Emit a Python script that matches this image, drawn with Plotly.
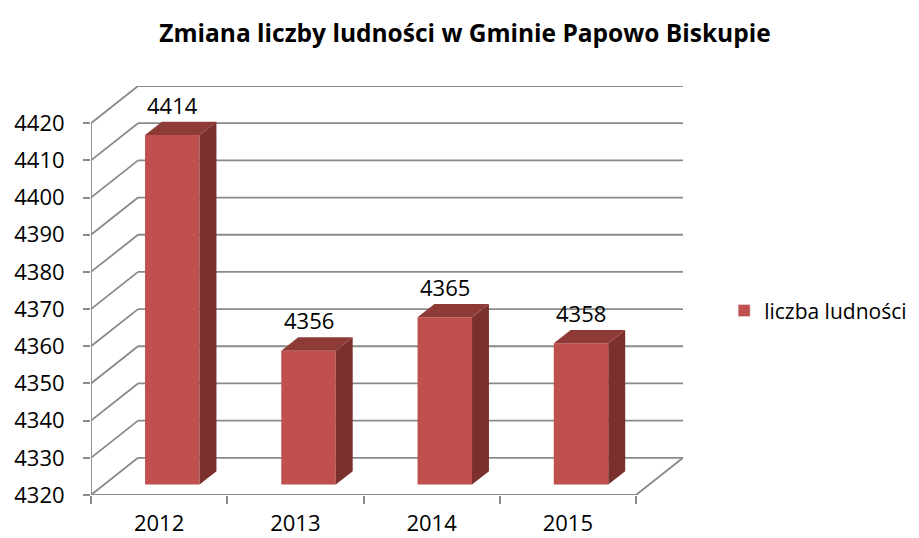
import plotly.graph_objects as go

title = "Zmiana liczby ludności w Gminie Papowo Biskupie"
series_name = "liczba ludności"
categories = ["2012", "2013", "2014", "2015"]
values = [4414, 4356, 4365, 4358]
y_ticks = [4320, 4330, 4340, 4350, 4360, 4370, 4380, 4390, 4400, 4410, 4420]

# 3D projection parameters (depth offset in data units)
DX = 0.345      # horizontal depth offset (category units)
DY = 10.0       # vertical depth offset (value units)
D0, D1 = 0.28, 0.64   # bar depth start / end (fraction of depth)
BAR_L, BAR_R = 0.30, 0.70  # bar front-face extent within category band
BASE = y_ticks[0]
TOP = y_ticks[-1]
N = len(categories)

GRID = "#8a8a8a"
FRONT = "#C0504D"
TOPC = "#8E3A37"
SIDE = "#7B302E"
FONT = "'Open Sans', Lato, 'Liberation Sans', sans-serif"

def proj(x, y, d):
    return x + d * DX, y + d * DY

fig = go.Figure()

# walls / grid
gx, gy = [], []
for v in y_ticks:
    x0, y0 = proj(0, v, 1)
    x1, y1 = proj(N, v, 1)
    gx += [x0, x1, None]; gy += [y0, y1, None]
    gx += [0, x0, None]; gy += [v, y0, None]
fx, fy = proj(N, BASE, 1)
gx += [0, N, fx, None]; gy += [BASE, BASE, fy, None]
gx += [0, 0, None]; gy += [BASE, TOP, None]
fig.add_trace(go.Scatter(x=gx, y=gy, mode="lines", line=dict(color=GRID, width=1.8),
                         hoverinfo="skip", showlegend=False))

def poly(pts, color):
    fig.add_trace(go.Scatter(x=[p[0] for p in pts] + [pts[0][0]], y=[p[1] for p in pts] + [pts[0][1]],
                             mode="lines", fill="toself", fillcolor=color, line=dict(width=0, color=color),
                             hoverinfo="skip", showlegend=False))

for i, v in enumerate(values):
    xl, xr = i + BAR_L, i + BAR_R
    poly([proj(xl, BASE, D0), proj(xr, BASE, D0), proj(xr, v, D0), proj(xl, v, D0)], FRONT)
    poly([proj(xr, BASE, D0), proj(xr, BASE, D1), proj(xr, v, D1), proj(xr, v, D0)], SIDE)
    poly([proj(xl, v, D0), proj(xr, v, D0), proj(xr, v, D1), proj(xl, v, D1)], TOPC)
    lx, _ = proj(i + 0.5, v, D0)
    _, ly = proj(i + 0.5, v, D1)
    fig.add_annotation(x=lx, y=ly, text=str(v), showarrow=False, yanchor="bottom",
                       yshift=0, font=dict(family=FONT, size=22, color="#000000"))

fig.add_trace(go.Bar(x=[None], y=[None], name=series_name, marker_color=FRONT, showlegend=True))

# page body has an 8px default margin, so the figure is sized to fit the window
fig.update_layout(
    width=911, height=530,
    paper_bgcolor="white", plot_bgcolor="white",
    margin=dict(l=83, r=236, t=78, b=43, autoexpand=False),
    title=dict(text="<b>" + title + "</b>", x=457 / 911, xref="container", xanchor="center",
               y=1 - 25 / 530, yref="container", yanchor="middle",
               font=dict(family=FONT, size=24.5, color="#000000")),
    xaxis=dict(range=[0, N + DX], showgrid=False, zeroline=False, showline=False,
               tickvals=[i + 0.5 for i in range(N)], ticktext=categories, ticks="",
               tickfont=dict(family=FONT, size=22, color="#000000"), ticklabelstandoff=13,
               minor=dict(tickvals=list(range(N + 1)), ticks="outside", ticklen=8,
                          tickcolor=GRID, tickwidth=1.8, showgrid=False),
               automargin=False, fixedrange=True),
    yaxis=dict(range=[BASE, TOP + DY], showgrid=False, zeroline=False, showline=False,
               tickvals=y_ticks, ticktext=[str(t) for t in y_ticks], ticks="outside",
               ticklen=7, tickcolor=GRID, tickwidth=1.8, ticklabelstandoff=14,
               tickfont=dict(family=FONT, size=22, color="#000000"),
               automargin=False, fixedrange=True),
    legend=dict(x=1.0695, xanchor="left", y=0.45, yanchor="middle",
                font=dict(family=FONT, size=21, color="#000000"), bgcolor="rgba(0,0,0,0)"),
    showlegend=True,
)

fig.write_html("out.html")
